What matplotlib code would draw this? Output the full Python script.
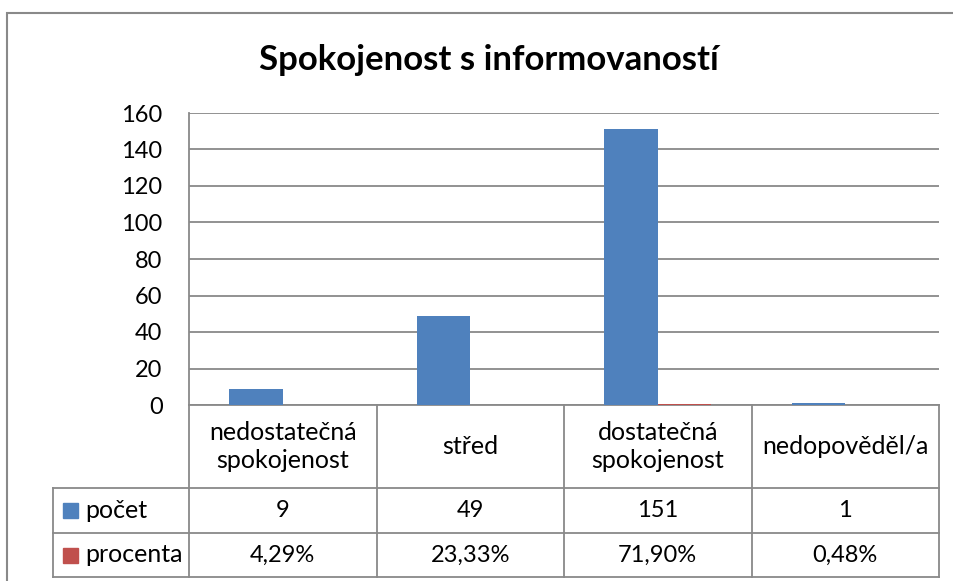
import numpy as np
import matplotlib
matplotlib.use('Agg')
import matplotlib.pyplot as plt
from matplotlib.patches import Rectangle
from matplotlib.lines import Line2D
import matplotlib.transforms as mtransforms

#-------------- DATA

categories = ["nedostatečná\nspokojenost", "střed", "dostatečná\nspokojenost", "nedopověděl/a"]
pocet = [9, 49, 151, 1]
procenta = [0.0429, 0.2333, 0.7190, 0.0048]
pocet_labels = ["9", "49", "151", "1"]
procenta_labels = ["4,29%", "23,33%", "71,90%", "0,48%"]
series_names = ["počet", "procenta"]
yticks = [0, 20, 40, 60, 80, 100, 120, 140, 160]

#-------------- STYLE

blue = '#4F81BD'
red = '#C0504D'
grey = '#898989'
W, H = 954, 581
fs = 17      # digits
fs_txt = 18  # words

plt.rcParams['font.family'] = ['Lato', 'DejaVu Sans']

fig = plt.figure(figsize=(W/100, H/100), dpi=100)
ax = fig.add_axes([189/W, 1-405/H, 750/W, 292/H])

# outer chart border
fig.add_artist(Rectangle((7/W, -0.1), 1.0, 1-13/H+0.1, transform=fig.transFigure,
                         fill=False, ec=grey, lw=1.5))

fig.text(489/W, 1-60/H, "Spokojenost s informovaností", ha='center', va='center',
         fontsize=25, fontweight='bold')

#-------------- BARS

x = np.arange(len(categories))
bw = 1/3.5
ax.bar(x - bw/2, pocet, bw, color=blue, zorder=3)
ax.bar(x + bw/2, procenta, bw, color=red, zorder=3)

ax.set_xlim(-0.5, len(categories)-0.5)
ax.set_ylim(0, 160)
ax.set_yticks(yticks)
ax.set_xticks([])
ax.tick_params(axis='y', length=0, pad=19, labelsize=fs)
ax.grid(axis='y', color=grey, lw=1.3, zorder=0)
for s in ['top', 'right', 'bottom']:
    ax.spines[s].set_visible(False)
ax.spines['left'].set_color(grey)
ax.spines['left'].set_linewidth(1.3)

#-------------- DATA TABLE (below the axes)

trans = mtransforms.blended_transform_factory(ax.transData, ax.transAxes)
ph = 292.0
r0, r1, r2, r3 = 0.0, -83/ph, -128/ph, -172/ph
xl = -0.5 - 136/187.5       # left edge of header column
xr = len(categories) - 0.5

def line(xs, ys):
    ax.add_line(Line2D(xs, ys, transform=trans, color=grey, lw=1.3, clip_on=False))

line([-0.5, xr], [r0, r0])
for yy in [r1, r2, r3]:
    line([xl, xr], [yy, yy])
for b in np.arange(-0.5, xr + 0.01, 1.0):
    line([b, b], [r0, r3])
line([xl, xl], [r1, r3])

for i, c in enumerate(categories):
    ax.text(i, (r0+r1)/2, c, transform=trans, ha='center', va='center',
            fontsize=fs_txt, linespacing=1.3)
    ax.text(i, (r1+r2)/2, pocet_labels[i], transform=trans, ha='center', va='center', fontsize=fs)
    ax.text(i, (r2+r3)/2, procenta_labels[i], transform=trans, ha='center', va='center', fontsize=fs)

kw = 15/187.5
for (ya, yb), name, col in zip([(r1, r2), (r2, r3)], series_names, [blue, red]):
    ym = (ya+yb)/2
    ax.add_patch(Rectangle((xl + 10/187.5, ym - 7.5/ph), kw, 15/ph, transform=trans,
                           color=col, clip_on=False))
    ax.text(xl + 32/187.5, ym, name, transform=trans, ha='left', va='center', fontsize=fs_txt)

plt.savefig("out.png", dpi=100)
